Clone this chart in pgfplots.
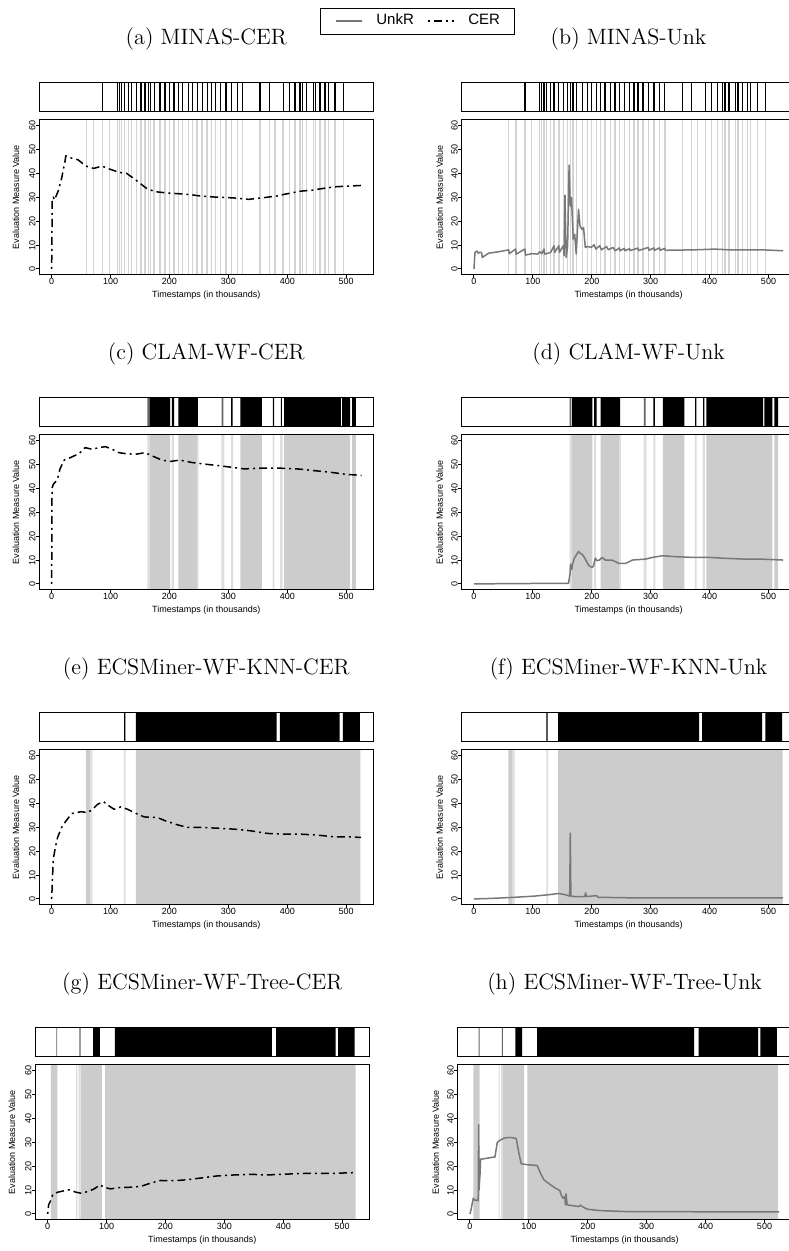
\documentclass[border=0pt]{standalone}
\usepackage{fontspec}
\usepackage{pgfplots}
\usepackage{pgfplotstable}
\pgfplotsset{compat=1.18}
\newfontfamily\hv{Liberation Sans}
\definecolor{novline}{HTML}{D3D3D3}
\definecolor{novband}{HTML}{CCCCCC}
\definecolor{novlight}{HTML}{DEDEDE}
\definecolor{unkgray}{HTML}{787878}
\definecolor{stripgray}{HTML}{666666}

\pgfplotsset{
  base/.style={scale only axis, width=167pt, xmin=-21, xmax=546, axis on top,
    axis line style={line width=0.5pt}, clip=true, anchor=north west},
  strip/.style={base, height=14.35pt, ymin=0, ymax=1, xtick=\empty, ytick=\empty},
  main/.style={base, height=77.5pt, ymin=-2.4, ymax=62.4,
    xtick={0,100,...,500}, ytick={0,10,...,60},
    tick align=outside, tick pos=left,
    major tick length=1.75pt, tick style={black, line width=0.5pt},
    ticklabel style={font=\hv\fontsize{4.5}{5}\selectfont},
    /pgf/number format/assume math mode=true,
    xticklabel style={anchor=north, inner sep=0pt},
    yticklabel style={rotate=90, anchor=south, inner sep=0pt},
    label style={font=\hv\fontsize{4.5}{5}\selectfont},
    xlabel={Timestamps (in thousands)}, ylabel={Evaluation Measure Value},
    xlabel style={at={(axis description cs:0.5,-0.135)}, anchor=center},
    ylabel style={at={(axis description cs:-0.07,0.5)}, anchor=center}},
  ttl/.style={title style={at={(axis description cs:0.5,2.115)}, anchor=center,
    font=\fontsize{11.1}{13}\selectfont}},
  cer/.style={black, line width=0.75pt, dash pattern=on 1pt off 2pt on 4pt off 2pt, no marks, line join=round},
  unk/.style={unkgray, line width=0.75pt, no marks, line join=round},
  nl/.style={novline, line width=0.7pt, no marks, forget plot},
  nb/.style={fill=novband, draw=none, no marks, forget plot},
  nlb/.style={fill=novlight, draw=none, no marks, forget plot},
  sl/.style={black, line width=0.65pt, no marks, forget plot},
  sb/.style={fill=black, draw=none, no marks, forget plot},
  sg/.style={fill=stripgray, draw=none, no marks, forget plot},
}

% ---- MINAS novelty lines (main plot) ----
\pgfplotstableread[row sep=\\]{
x y\\
59 -50\\ 59 150\\ 71 150\\ 71 -50\\ 86.5 -50\\ 86.5 150\\ 98 150\\ 98 -50\\
111.5 -50\\ 111.5 150\\ 115 150\\ 115 -50\\ 119 -50\\ 119 150\\ 123.5 150\\ 123.5 -50\\
130 -50\\ 130 150\\ 136 150\\ 136 -50\\ 144 -50\\ 144 150\\ 151.5 150\\ 151.5 -50\\
158.5 -50\\ 158.5 150\\ 164 150\\ 164 -50\\ 168 -50\\ 168 150\\ 174 150\\ 174 -50\\
184 -50\\ 184 150\\ 192.5 150\\ 192.5 -50\\ 200 -50\\ 200 150\\ 207.5 150\\ 207.5 -50\\
215 -50\\ 215 150\\ 222.5 150\\ 222.5 -50\\ 232 -50\\ 232 150\\ 239.5 150\\ 239.5 -50\\
247 -50\\ 247 150\\ 255.5 150\\ 255.5 -50\\ 264 -50\\ 264 150\\ 271.5 150\\ 271.5 -50\\
278.5 -50\\ 278.5 150\\ 287 150\\ 287 -50\\ 296 -50\\ 296 150\\ 305.5 150\\ 305.5 -50\\
315 -50\\ 315 150\\ 324 150\\ 324 -50\\ 353.5 -50\\ 353.5 150\\ 369.5 150\\ 369.5 -50\\
379 -50\\ 379 150\\ 393 150\\ 393 -50\\ 403.5 -50\\ 403.5 150\\ 413 150\\ 413 -50\\
421.5 -50\\ 421.5 150\\ 426 150\\ 426 -50\\ 433 -50\\ 433 150\\ 444 150\\ 444 -50\\
448 -50\\ 448 150\\ 455.5 150\\ 455.5 -50\\ 464 -50\\ 464 150\\ 469.5 150\\ 469.5 -50\\
481 -50\\ 481 150\\ 495 150\\ 495 -50\\
}\minasmain
% ---- MINAS strip lines ----
\pgfplotstableread[row sep=\\]{
x y\\
86.5 -1\\ 86.5 2\\ 111.5 2\\ 111.5 -1\\ 115 -1\\ 115 2\\ 119 2\\ 119 -1\\
123.5 -1\\ 123.5 2\\ 130 2\\ 130 -1\\ 136 -1\\ 136 2\\ 144 2\\ 144 -1\\
151.5 -1\\ 151.5 2\\ 158.5 2\\ 158.5 -1\\ 164 -1\\ 164 2\\ 168 2\\ 168 -1\\
174 -1\\ 174 2\\ 184 2\\ 184 -1\\ 192.5 -1\\ 192.5 2\\ 200 2\\ 200 -1\\
207.5 -1\\ 207.5 2\\ 215 2\\ 215 -1\\ 222.5 -1\\ 222.5 2\\ 232 2\\ 232 -1\\
239.5 -1\\ 239.5 2\\ 247 2\\ 247 -1\\ 255.5 -1\\ 255.5 2\\ 264 2\\ 264 -1\\
271.5 -1\\ 271.5 2\\ 278.5 2\\ 278.5 -1\\ 287 -1\\ 287 2\\ 296 2\\ 296 -1\\
305.5 -1\\ 305.5 2\\ 315 2\\ 315 -1\\ 324 -1\\ 324 2\\ 353.5 2\\ 353.5 -1\\
369.5 -1\\ 369.5 2\\ 393 2\\ 393 -1\\ 403.5 -1\\ 403.5 2\\ 413 2\\ 413 -1\\
421.5 -1\\ 421.5 2\\ 426 2\\ 426 -1\\ 433 -1\\ 433 2\\ 444 2\\ 444 -1\\
448 -1\\ 448 2\\ 455.5 2\\ 455.5 -1\\ 464 -1\\ 464 2\\ 469.5 2\\ 469.5 -1\\
481 -1\\ 481 2\\ 495 2\\ 495 -1\\
}\minasstrip
% ---- CLAM ----
\pgfplotstableread[row sep=\\]{
x y\\
166 -50\\ 166 150\\ 201 150\\ 201 -50\\ 215 -50\\ 215 150\\ 246.5 150\\ 246.5 -50\\
320.5 -50\\ 320.5 150\\ 357 150\\ 357 -50\\ 394.5 -50\\ 394.5 150\\ 506.5 150\\ 506.5 -50\\
510 -50\\ 510 150\\ 516.5 150\\ 516.5 -50\\
}\clamband
\pgfplotstableread[row sep=\\]{
x y\\
162.5 -50\\ 162.5 150\\ 166 150\\ 166 -50\\ 203.5 -50\\ 203.5 150\\ 207.5 150\\ 207.5 -50\\
246.5 -50\\ 246.5 150\\ 249.5 150\\ 249.5 -50\\ 288 -50\\ 288 150\\ 293 150\\ 293 -50\\
304.5 -50\\ 304.5 150\\ 308 150\\ 308 -50\\ 375 -50\\ 375 150\\ 378 150\\ 378 -50\\
388 -50\\ 388 150\\ 392 150\\ 392 -50\\
}\clamlight
\pgfplotstableread[row sep=\\]{
x y\\
166 -1\\ 166 2\\ 201 2\\ 201 -1\\ 204 -1\\ 204 2\\ 208 2\\ 208 -1\\
215 -1\\ 215 2\\ 248 2\\ 248 -1\\ 304.5 -1\\ 304.5 2\\ 307 2\\ 307 -1\\
320.5 -1\\ 320.5 2\\ 357 2\\ 357 -1\\ 375.5 -1\\ 375.5 2\\ 377.5 2\\ 377.5 -1\\
389 -1\\ 389 2\\ 391 2\\ 391 -1\\ 394.5 -1\\ 394.5 2\\ 491 2\\ 491 -1\\
493 -1\\ 493 2\\ 506.5 2\\ 506.5 -1\\ 510 -1\\ 510 2\\ 516.5 2\\ 516.5 -1\\
}\clamstrip
\pgfplotstableread[row sep=\\]{
x y\\
162.5 -1\\ 162.5 2\\ 165 2\\ 165 -1\\ 288.5 -1\\ 288.5 2\\ 291.5 2\\ 291.5 -1\\
}\clamstripg
% ---- ECSMiner KNN ----
\pgfplotstableread[row sep=\\]{
x y\\
58.2 -50\\ 58.2 150\\ 65.5 150\\ 65.5 -50\\ 143 -50\\ 143 150\\ 524 150\\ 524 -50\\
}\knnband
\pgfplotstableread[row sep=\\]{
x y\\
65.5 -50\\ 65.5 150\\ 69 150\\ 69 -50\\ 123 -50\\ 123 150\\ 125.5 150\\ 125.5 -50\\
}\knnlight
\pgfplotstableread[row sep=\\]{
x y\\
123 -1\\ 123 2\\ 125 2\\ 125 -1\\ 143 -1\\ 143 2\\ 382 2\\ 382 -1\\
387.5 -1\\ 387.5 2\\ 489 2\\ 489 -1\\ 494.5 -1\\ 494.5 2\\ 523 2\\ 523 -1\\
}\knnstrip
% ---- ECSMiner Tree ----
\pgfplotstableread[row sep=\\]{
x y\\
5.6 -50\\ 5.6 150\\ 16.5 150\\ 16.5 -50\\ 56 -50\\ 56 150\\ 92 150\\ 92 -50\\
97.5 -50\\ 97.5 150\\ 523 150\\ 523 -50\\
}\treeband
\pgfplotstableread[row sep=\\]{
x y\\
48.5 -50\\ 48.5 150\\ 50.5 150\\ 50.5 -50\\ 52.5 -50\\ 52.5 150\\ 56 150\\ 56 -50\\
}\treelight
\pgfplotstableread[row sep=\\]{
x y\\
77 -1\\ 77 2\\ 88.5 2\\ 88.5 -1\\ 114 -1\\ 114 2\\ 380.5 2\\ 380.5 -1\\
388 -1\\ 388 2\\ 489 2\\ 489 -1\\ 493 -1\\ 493 2\\ 521 2\\ 521 -1\\
}\treestrip
\pgfplotstableread[row sep=\\]{
x y\\
14.8 -1\\ 14.8 2\\ 16.2 2\\ 16.2 -1\\ 54 -1\\ 54 2\\ 56 2\\ 56 -1\\
}\treestripg

\begin{document}
\begin{tikzpicture}
% ================= (a) =================
\begin{axis}[strip, ttl, at={(19.65pt,-41.35pt)}, title={(a) MINAS-CER},
  legend columns=2,
  legend style={at={(axis description cs:1.1323,3.15)}, anchor=center, draw=black,
    line width=0.4pt, font=\hv\fontsize{7.5}{9}\selectfont,
    inner xsep=7pt, inner ysep=2pt,
    nodes={inner xsep=0pt, inner ysep=1pt},
    /tikz/every odd column/.append style={column sep=7pt},
    /tikz/every even column/.append style={column sep=6.5pt}},
  legend image code/.code={\draw[#1] (0pt,0pt) -- (13pt,0pt);}]
\addlegendimage{unk}\addlegendentry{UnkR}
\addlegendimage{cer}\addlegendentry{CER}
\addplot[sl] table {\minasstrip};
\end{axis}
\begin{axis}[main, at={(19.65pt,-59.85pt)}]
\addplot[nl] table {\minasmain};
\addplot[cer] coordinates {(0,0) (1,29) (3,30) (4.5,28.8) (11,32.5) (17,38) (22.6,45) (24,47.3) (34,46.3) (45,45.6) (58,43) (66,42.5) (71,42) (85,43) (99,41.7) (116,40.3) (127,40) (139,37.9) (150,35.8) (161,33.7) (175.5,32.3) (195,31.8) (218,31.4) (235,31.1) (252,30.5) (280,30) (309,29.7) (334,29.1) (360,29.8) (382,30.5) (399,31.4) (422,32.5) (444,33) (467,33.9) (484,34.4) (501,34.6) (525,34.9)};
\end{axis}
% ================= (b) =================
\begin{axis}[strip, ttl, at={(230.8pt,-41.35pt)}, title={(b) MINAS-Unk}]
\addplot[sl] table {\minasstrip};
\end{axis}
\begin{axis}[main, at={(230.8pt,-59.85pt)}, ylabel style={at={(axis description cs:-0.066,0.5)}}]
\addplot[nl] table {\minasmain};
\addplot[unk] coordinates {(0,0) (1.7,6.9) (5,7.5) (7,6.6) (10,7) (13,6.8) (14,4.8) (20,5.8) (25,6.6) (34,6.9) (51,7.6) (59,8) (60,6.4) (70.7,8.3) (71.5,6.2) (86.5,8.3) (87.5,5.8) (98,6.4) (108,6.2) (111.5,7.2) (115,6.4) (119,8.3) (120,6.2) (130,6.9) (136,9.7) (137,6.9) (144,9.7) (145,6.9) (151.5,9.7) (153,5.5) (154.5,30.9) (156.5,4.8) (159,9.7) (161.5,43.4) (163.5,26.3) (165.5,29.8) (168.5,12.5) (171,14.5) (173.5,6.2) (177.5,24.9) (180,18) (183,16.6) (186,17.3) (189,9) (193,9.4) (199,9) (204,10.1) (207,8.3) (213.5,9.7) (216.5,8) (225,9.4) (228,8) (236,9) (240,7.6) (247,8.8) (248,7.6) (255.5,8.6) (256.5,7.6) (264,8.5) (265,7.7) (278.5,8.7) (279.5,7.7) (296,9) (297,7.8) (305.5,8.8) (306.5,7.8) (315,8.8) (316,7.8) (324,8.6) (325,7.8) (375,8) (409,8.3) (432,8) (488.5,8) (525,7.6)};
\end{axis}
% ================= (c) =================
\begin{axis}[strip, ttl, at={(19.65pt,-198.85pt)}, title={(c) CLAM-WF-CER}]
\addplot[sb] table {\clamstrip};
\addplot[sg] table {\clamstripg};
\end{axis}
\begin{axis}[main, at={(19.65pt,-217.35pt)}]
\addplot[nb] table {\clamband};
\addplot[nlb] table {\clamlight};
\addplot[cer] coordinates {(0,0) (0.6,40) (2.8,41.7) (6.2,42.6) (10,44) (14,48) (21.3,51.8) (32.5,52.9) (46.6,54.5) (56.7,57) (69,56.3) (80,57) (91.5,57.4) (102.7,56.3) (114,54.9) (125,54.5) (142,54.2) (158.8,54.9) (170,53.6) (186.9,51.8) (201,51.2) (217.7,51.8) (237.4,50.8) (259.8,50.1) (282.3,49.5) (304.7,48.8) (327,48.1) (355.2,48.4) (388.9,48.4) (417,48.1) (445,47.4) (473,46.7) (501,45.8) (526,45.4)};
\end{axis}
% ================= (d) =================
\begin{axis}[strip, ttl, at={(230.8pt,-198.85pt)}, title={(d) CLAM-WF-Unk}]
\addplot[sb] table {\clamstrip};
\addplot[sg] table {\clamstripg};
\end{axis}
\begin{axis}[main, at={(230.8pt,-217.35pt)}, ylabel style={at={(axis description cs:-0.066,0.5)}}]
\addplot[nb] table {\clamband};
\addplot[nlb] table {\clamlight};
\addplot[unk] coordinates {(0,0) (40,0.1) (100,0.2) (160.5,0.3) (163,4.2) (164,8.3) (166,6) (167.5,8.5) (169,9.7) (171,11.1) (173,11.8) (177.5,13.6) (180.5,12.8) (184.5,12.2) (189,10.4) (195,7.6) (200.5,6.9) (203,7.6) (206,10.8) (209,9.7) (213,10) (217.5,11.1) (223,10) (234.5,10) (246,8.6) (257.5,8.6) (269,10) (291.5,10.4) (303,11.1) (320,11.8) (343,11.4) (371.5,11.1) (400,11.1) (428.5,10.7) (457,10.4) (485.5,10.4) (525,10)};
\end{axis}
% ================= (e) =================
\begin{axis}[strip, ttl, at={(19.65pt,-356.35pt)}, title={(e) ECSMiner-WF-KNN-CER}]
\addplot[sb] table {\knnstrip};
\end{axis}
\begin{axis}[main, at={(19.65pt,-374.85pt)}]
\addplot[nb] table {\knnband};
\addplot[nlb] table {\knnlight};
\addplot[cer] coordinates {(0,0) (1.7,10.4) (2.8,16.7) (6.2,21.5) (10,25.7) (17,29.9) (24.3,32.6) (34,35.7) (50,36.5) (60,36.1) (67.8,37.1) (78,39.6) (88,40.7) (95,39.3) (106,37.5) (117.5,38.5) (128.8,37.5) (140,36.1) (157,34.3) (179.7,34) (193.8,32.6) (213.6,31) (230.5,29.9) (253,29.9) (281,29.6) (309.6,29.2) (337.8,28.5) (366,27.4) (394,27.1) (422.6,27.1) (450.8,26.7) (479,26) (507,26) (525,25.7)};
\end{axis}
% ================= (f) =================
\begin{axis}[strip, ttl, at={(230.8pt,-356.35pt)}, title={(f) ECSMiner-WF-KNN-Unk}]
\addplot[sb] table {\knnstrip};
\end{axis}
\begin{axis}[main, at={(230.8pt,-374.85pt)}, ylabel style={at={(axis description cs:-0.066,0.5)}}]
\addplot[nb] table {\knnband};
\addplot[nlb] table {\knnlight};
\addplot[unk] coordinates {(0,0) (35.6,0.3) (69.5,0.7) (103,1.2) (131.6,1.9) (143,2.3) (151.4,2) (157,1.6) (162.5,1.2) (163.5,27.5) (164.5,1.2) (171,1) (188,1) (189.5,2.6) (191,1) (208.5,1.4) (210.5,0.7) (261.6,0.5) (374.6,0.5) (525,0.5)};
\end{axis}
% ================= (g) =================
\begin{axis}[strip, ttl, at={(17.65pt,-513.85pt)}, title={(g) ECSMiner-WF-Tree-CER}]
\addplot[sb] table {\treestrip};
\addplot[sg] table {\treestripg};
\end{axis}
\begin{axis}[main, at={(17.65pt,-532.35pt)}]
\addplot[nb] table {\treeband};
\addplot[nlb] table {\treelight};
\addplot[cer] coordinates {(0,0) (1.7,3.9) (4.5,5.3) (8.5,8) (17,9.1) (28,9.7) (36.6,10.1) (48,9.1) (56.4,8.7) (68.8,9.4) (79,10.5) (89,12.2) (95.8,11.1) (107,10.5) (124,11.1) (135,11.1) (157.8,11.5) (174.7,12.9) (191.7,14) (214,13.9) (236.8,14.3) (259,15) (287.5,15.9) (315.7,16.3) (343.9,16.6) (372,16.3) (400,16.6) (428.4,16.9) (456.6,17) (484.8,17) (525,17.3)};
\end{axis}
% ================= (h) =================
\begin{axis}[strip, ttl, at={(228.8pt,-513.85pt)}, title={(h) ECSMiner-WF-Tree-Unk}]
\addplot[sb] table {\treestrip};
\addplot[sg] table {\treestripg};
\end{axis}
\begin{axis}[main, at={(228.8pt,-532.35pt)}, ylabel style={at={(axis description cs:-0.066,0.5)}}]
\addplot[nb] table {\treeband};
\addplot[nlb] table {\treelight};
\addplot[unk] coordinates {(0,0) (2.3,2.4) (5.6,6.6) (7.9,5.9) (10,5.6) (12.4,5.9) (14,5.5) (14.7,37.3) (15.3,10) (17,16.4) (18,22.9) (23.7,23.1) (40.7,23.8) (42.4,23.8) (46.3,29.9) (50.8,30.8) (57.6,31.7) (66,32) (77.4,31.7) (79,31) (83,25.4) (87,21) (97,20.6) (114,20.3) (119.8,17) (125.4,14.3) (136.7,12.2) (145,10.8) (152.5,9.8) (154.8,8) (157.6,6.6) (161,7.3) (162,3.8) (163,8.4) (165,3.8) (176,3.4) (184.7,3.1) (187.6,3.8) (190.4,3.1) (199,2) (221.5,1.4) (266.7,1) (323,1) (400,0.9) (525,0.9)};
\end{axis}
\pgfresetboundingbox
\path[use as bounding box] (0pt,0pt) rectangle (394pt,-625.5pt);
\end{tikzpicture}
\end{document}
